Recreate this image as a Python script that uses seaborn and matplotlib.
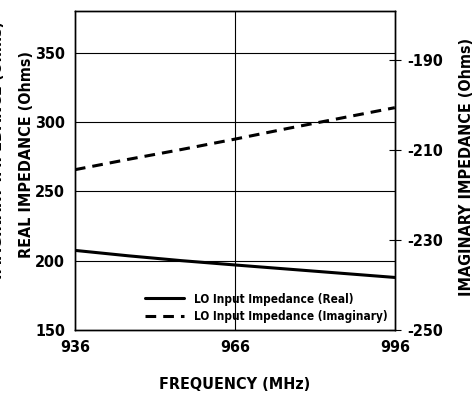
import numpy as np
import pandas as pd
import matplotlib
matplotlib.use("Agg")
import matplotlib.pyplot as plt
import seaborn as sns

# data
freq_mhz = [936, 946, 956, 966, 976, 986, 996]
real_ohms = [207.5, 203.6, 200.1, 197.0, 194.0, 191.0, 188.0]
imag_ohms = [-214.3, -212.0, -209.8, -207.5, -205.1, -202.8, -200.5]

x_ticks = [936, 966, 996]
real_ticks = [150, 200, 250, 300, 350]
imag_ticks = [-250, -230, -210, -190]

df = pd.DataFrame({"freq": freq_mhz, "real": real_ohms, "imag": imag_ohms})

sns.set_style("white")
plt.rcParams["font.family"] = ["DejaVu Sans"]
plt.rcParams["font.stretch"] = "condensed"
plt.rcParams["font.weight"] = "bold"
plt.rcParams["text.color"] = "black"
plt.rcParams["xtick.color"] = "black"
plt.rcParams["ytick.color"] = "black"
plt.rcParams["axes.labelcolor"] = "black"
plt.rcParams["axes.unicode_minus"] = False

fig = plt.figure(figsize=(4.74, 3.94), dpi=100)
ax = fig.add_axes([0.158, 0.162, 0.675, 0.81])
ax2 = ax.twinx()

sns.lineplot(data=df, x="freq", y="real", ax=ax, color="black", lw=2.2,
             label="LO Input Impedance (Real)", legend=False)
sns.lineplot(data=df, x="freq", y="imag", ax=ax2, color="black", lw=2.2,
             linestyle=(0, (3.5, 2.3)), label="LO Input Impedance (Imaginary)", legend=False)

ax.set_xlim(936, 996)
ax.set_ylim(150, 380)
ax2.set_ylim(-250, -179)
ax.set_xticks(x_ticks)
ax.set_yticks(real_ticks)
ax2.set_yticks(imag_ticks)

# grid only at left ticks and middle frequency
for v in real_ticks[1:]:
    ax.axhline(v, color="black", lw=0.8, zorder=0)
ax.axvline(966, color="black", lw=0.8, zorder=0)

for a in (ax, ax2):
    for s in a.spines.values():
        s.set_color("black")
        s.set_linewidth(1.0)
ax.tick_params(axis="x", labelsize=11.5, length=0, pad=7)
ax.tick_params(axis="y", labelsize=11.5, length=0, pad=7)
ax2.tick_params(axis="y", labelsize=11.5, length=8, width=0.8, direction="inout", pad=5)

ax.set_xlabel("FREQUENCY (MHz)", fontsize=11.5, fontweight="bold", labelpad=16)
ax.set_ylabel("REAL IMPEDANCE (Ohms)", fontsize=11.5, fontweight="bold")
ax2.set_ylabel("IMAGINARY IMPEDANCE (Ohms)", fontsize=11.5, fontweight="bold")
ax.yaxis.set_label_coords(-0.128, 0.55)
ax2.yaxis.set_label_coords(1.2, 0.51)

# cut-off duplicate label at the left edge
fig.text(-0.006, 0.62, "IMAGINARY IMPEDANCE (Ohms)", rotation=90, fontsize=11.5,
         fontweight="bold", ha="center", va="center")

h1, l1 = ax.get_legend_handles_labels()
h2, l2 = ax2.get_legend_handles_labels()
ax2.legend(h1 + h2, l1 + l2, loc="lower right", bbox_to_anchor=(1.01, -0.01),
           frameon=False, fontsize=8.5, handlelength=3.3, handletextpad=0.8,
           labelspacing=0.35)

fig.savefig("out.png", dpi=100)
